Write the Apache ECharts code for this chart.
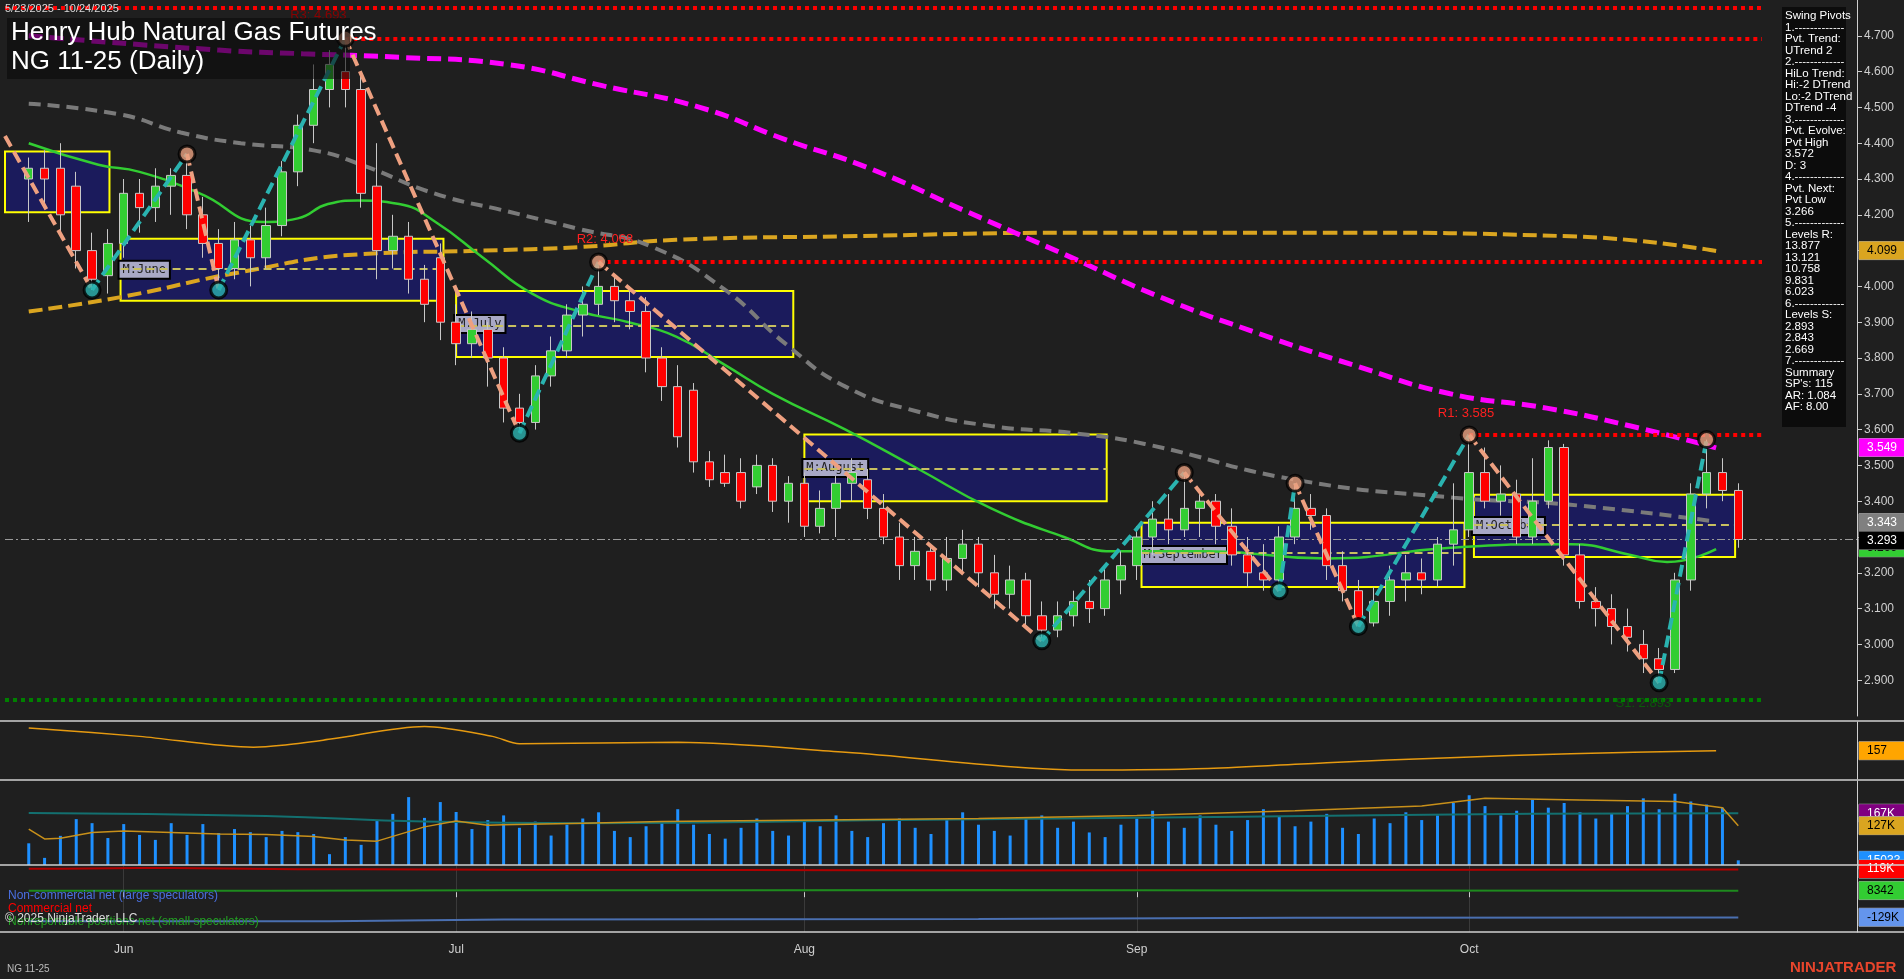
<!DOCTYPE html>
<html>
<head>
<meta charset="utf-8">
<script src="https://cdn.jsdelivr.net/npm/echarts@6/dist/echarts.min.js"></script>
<style>
  html, body { margin: 0; padding: 0; background: #1f1f1f; }
  #chart { width: 1904px; height: 979px; }
</style>
</head>
<body>
<div id="chart"></div>
<script>
// trading days shown on the chart
const dates = [
  '5/23','5/26','5/27','5/28','5/29','5/30',
  '6/2','6/3','6/4','6/5','6/6','6/9','6/10','6/11','6/12','6/13','6/16','6/17','6/18','6/19','6/20','6/23','6/24','6/25','6/26','6/27','6/30',
  '7/1','7/2','7/3','7/7','7/8','7/9','7/10','7/11','7/14','7/15','7/16','7/17','7/18','7/21','7/22','7/23','7/24','7/25','7/28','7/29','7/30','7/31',
  '8/1','8/4','8/5','8/6','8/7','8/8','8/11','8/12','8/13','8/14','8/15','8/18','8/19','8/20','8/21','8/22','8/25','8/26','8/27','8/28','8/29',
  '9/2','9/3','9/4','9/5','9/8','9/9','9/10','9/11','9/12','9/15','9/16','9/17','9/18','9/19','9/22','9/23','9/24','9/25','9/26','9/29','9/30',
  '10/1','10/2','10/3','10/6','10/7','10/8','10/9','10/10','10/13','10/14','10/15','10/16','10/17','10/20','10/21','10/22','10/23','10/24'
];
const monthNames = { 6: 'Jun', 7: 'Jul', 8: 'Aug', 9: 'Sep', 10: 'Oct' };

// [open, close, low, high]
const ohlc = [
  [4.30,4.33,4.18,4.36],[4.33,4.30,4.22,4.38],[4.33,4.20,4.15,4.40],[4.28,4.10,4.05,4.32],[4.10,4.02,3.99,4.15],[4.03,4.12,3.98,4.16],
  [4.12,4.26,4.08,4.30],[4.26,4.22,4.15,4.30],[4.22,4.28,4.18,4.33],[4.28,4.31,4.20,4.33],[4.31,4.20,4.16,4.37],[4.20,4.12,4.08,4.25],
  [4.12,4.05,3.99,4.16],[4.05,4.13,4.02,4.18],[4.13,4.08,4.00,4.17],[4.08,4.17,4.05,4.22],[4.17,4.32,4.14,4.35],[4.32,4.45,4.28,4.48],
  [4.45,4.55,4.40,4.62],[4.55,4.62,4.50,4.66],[4.60,4.55,4.50,4.693],[4.55,4.26,4.22,4.60],[4.28,4.10,4.02,4.40],[4.10,4.14,4.05,4.20],
  [4.14,4.02,3.98,4.18],[4.02,3.95,3.90,4.06],[4.08,3.90,3.85,4.12],
  [3.90,3.84,3.78,3.95],[3.84,3.88,3.80,3.93],[3.88,3.80,3.72,3.90],[3.80,3.66,3.62,3.83],[3.66,3.62,3.59,3.70],[3.62,3.75,3.60,3.78],
  [3.75,3.82,3.72,3.86],[3.82,3.92,3.80,3.95],[3.92,3.95,3.86,4.00],[3.95,4.00,3.92,4.068],[4.00,3.96,3.90,4.03],[3.96,3.93,3.88,4.00],
  [3.93,3.80,3.76,3.97],[3.80,3.72,3.68,3.83],[3.72,3.58,3.55,3.78],[3.71,3.51,3.48,3.73],[3.51,3.46,3.44,3.54],[3.48,3.45,3.44,3.53],
  [3.48,3.40,3.38,3.52],[3.44,3.50,3.42,3.53],[3.50,3.40,3.37,3.52],[3.40,3.45,3.34,3.47],
  [3.45,3.33,3.30,3.48],[3.33,3.38,3.31,3.43],[3.38,3.45,3.30,3.47],[3.45,3.48,3.40,3.52],[3.46,3.38,3.35,3.49],[3.38,3.30,3.28,3.42],
  [3.30,3.22,3.18,3.34],[3.22,3.26,3.18,3.30],[3.26,3.18,3.15,3.28],[3.18,3.24,3.15,3.30],[3.24,3.28,3.20,3.32],[3.28,3.20,3.16,3.30],
  [3.20,3.14,3.10,3.25],[3.14,3.18,3.10,3.22],[3.18,3.08,3.05,3.20],[3.08,3.04,3.01,3.12],[3.04,3.08,3.02,3.12],[3.08,3.12,3.05,3.15],
  [3.12,3.10,3.06,3.18],[3.10,3.18,3.08,3.22],[3.18,3.22,3.14,3.26],
  [3.22,3.30,3.18,3.33],[3.30,3.35,3.25,3.40],[3.35,3.32,3.28,3.42],[3.32,3.38,3.30,3.48],[3.38,3.40,3.30,3.42],[3.40,3.33,3.28,3.42],
  [3.33,3.25,3.22,3.38],[3.25,3.20,3.16,3.30],[3.20,3.18,3.15,3.28],[3.18,3.30,3.15,3.33],[3.30,3.38,3.28,3.45],[3.38,3.36,3.32,3.42],
  [3.36,3.22,3.18,3.38],[3.22,3.15,3.12,3.26],[3.15,3.06,3.05,3.18],[3.06,3.12,3.05,3.16],[3.12,3.18,3.08,3.22],[3.18,3.20,3.12,3.25],
  [3.20,3.18,3.14,3.24],[3.18,3.28,3.16,3.30],[3.28,3.32,3.22,3.45],
  [3.32,3.48,3.30,3.585],[3.48,3.40,3.38,3.55],[3.40,3.42,3.36,3.50],[3.42,3.30,3.28,3.46],[3.30,3.40,3.28,3.52],[3.40,3.55,3.38,3.57],
  [3.55,3.25,3.22,3.56],[3.25,3.12,3.10,3.28],[3.12,3.10,3.05,3.16],[3.10,3.05,3.00,3.14],[3.05,3.02,2.98,3.10],[3.00,2.96,2.92,3.04],
  [2.96,2.93,2.893,2.99],[2.93,3.18,2.92,3.20],[3.18,3.42,3.15,3.45],[3.42,3.48,3.38,3.572],[3.48,3.43,3.40,3.52],[3.43,3.293,3.27,3.45]
];

// moving averages: [bar index, price]
const maGreen = [[0,4.40],[4.4,4.34],[7,4.32],[10.8,4.26],[14.8,4.18],[17,4.19],[18.9,4.23],[20.8,4.24],[23.4,4.23],[25.7,4.18],[28.7,4.08],[31.8,3.98],[34.8,3.93],[37.9,3.90],[40.9,3.86],[44,3.78],[47,3.70],[51.6,3.60],[56.2,3.49],[60.8,3.38],[65.4,3.30],[68.4,3.26],[74.5,3.26],[82,3.24],[89.8,3.27],[97.4,3.28],[101.2,3.25],[103.5,3.23],[106.6,3.266]];
const maGray = [[0,4.51],[5.8,4.48],[9.6,4.43],[13.4,4.40],[18,4.38],[21,4.34],[25.6,4.26],[30.2,4.21],[34.8,4.16],[39.4,4.11],[44,3.99],[47.8,3.84],[51.6,3.72],[56.2,3.65],[60.8,3.61],[66,3.59],[70.5,3.56],[80,3.46],[90,3.41],[97.4,3.39],[106.6,3.343]];
const maMagenta = [[0,4.70],[12,4.66],[17.3,4.65],[23.4,4.64],[30.2,4.62],[36.3,4.56],[42.4,4.50],[47.8,4.41],[53.1,4.33],[59.2,4.21],[65.4,4.09],[71.5,3.97],[77.6,3.87],[83.7,3.78],[89.8,3.70],[95.9,3.66],[101.2,3.61],[106.6,3.549]];
const maOrange = [[0,3.93],[5.8,3.97],[13.4,4.04],[21,4.09],[28.7,4.10],[34.8,4.11],[40.9,4.13],[51.6,4.14],[66.9,4.15],[82,4.15],[97.4,4.14],[106.6,4.099]];

// swing pivots [bar index, price]
const pivots = [[-1.5,4.42],[4,3.99],[10,4.37],[12,3.99],[20,4.693],[31,3.59],[36,4.068],[64,3.01],[73,3.48],[79,3.15],[80,3.45],[84,3.05],[91,3.585],[103,2.893],[106,3.572]];
const pivotHighs = [[10,4.37],[20,4.693],[36,4.068],[73,3.48],[80,3.45],[91,3.585],[106,3.572]];
const pivotLows = [[4,3.99],[12,3.99],[31,3.59],[64,3.01],[79,3.15],[84,3.05],[103,2.893]];

// monthly value areas: [name, startIdx, endIdx, high, low, mid]
const monthBoxes = [
  ['', -1.8, 5.1, 4.377, 4.207, 4.29],
  ['M:June', 5.8, 26.2, 4.133, 3.96, 4.05],
  ['M:July', 27.0, 48.3, 3.987, 3.803, 3.89],
  ['M:August', 49.0, 68.1, 3.586, 3.40, 3.49],
  ['M:September', 70.3, 90.7, 3.34, 3.16, 3.256],
  ['M:October', 91.3, 107.8, 3.418, 3.244, 3.333]
];

// pivot levels: [startIdx, price, colour]
const levels = [[-1.5,4.778,'#ff0000'],[20,4.693,'#ff0000'],[36,4.068,'#ff0000'],[91,3.585,'#ff0000'],[-1.5,2.845,'#008000']];
const levelLabels = [['R3: 4.693',18.3,4.758,'#8b0000'],['R2: 4.068',36.4,4.13,'#ff2020'],['R1: 3.585',90.8,3.644,'#ff2020'],['S1: 2.893',102,2.835,'#0a5a0a']];

// indicator panel (orange)
const indLine = [[0,203],[7,186],[14.2,164],[16,168],[19.2,181],[25,206],[29.3,186],[31,171],[41,174],[51.6,154],[66.9,118],[74.5,121],[82,133],[89.8,143],[97.4,151],[106.6,157]];

// volume (K)
const volume = [70,23,94,148,135,87,132,97,81,135,97,132,103,116,106,90,110,106,100,35,90,65,142,165,219,152,203,171,116,145,
  160,120,140,95,130,150,170,110,90,125,140,180,130,100,85,120,150,110,95,140,
  125,160,110,90,135,150,120,100,145,170,130,110,95,150,160,120,140,105,90,130,
  150,175,140,120,160,130,110,145,180,155,125,140,165,120,100,150,135,170,145,160,
  200,225,190,160,175,210,185,200,170,150,165,190,215,180,230,205,195,185,15.033];
const volAvg = [[0,116],[1,84],[2,86],[4,105],[6,110],[9,105],[12,100],[15,98],[18,92],[20,81],[22,77],[25,123],[27,142],[29,128],[30,130],[35,135],[40,140],[50,145],[60,150],[70,160],[80,175],[88,190],[92,215],[98,210],[104,205],[107,185],[108,127]];
const volTeal = [[0,168],[15,158],[25,140],[35,135],[55,145],[75,155],[95,165],[108,167]];

// COT nets (K)
const cotCommercial = [[0,121],[2,125],[7,125],[9,118],[17,118],[21,116],[30,114],[45,112],[60,115],[80,117],[108,119]];
const cotSmall = [[0,8],[10,8],[15,10],[30,10],[45,12],[60,9],[80,7],[108,8.342]];
const cotLarge = [[0,-150],[17,-150],[19,-140],[30,-138],[60,-132],[80,-130],[108,-129]];

const sidePanel = ['Swing Pivots','1.-------------','Pvt. Trend:','UTrend 2','2.-------------','HiLo Trend:','Hi:-2 DTrend','Lo:-2 DTrend','DTrend -4','3.-------------','Pvt. Evolve:','Pvt High','3.572','D: 3','4.-------------','Pvt. Next:','Pvt Low','3.266','5.-------------','Levels R:','13.877','13.121','10.758','9.831','6.023','6.-------------','Levels S:','2.893','2.843','2.669','7.-------------','Summary',"SP's: 115",'AR: 1.084','AF: 8.00'];

const monthStarts = [];
dates.forEach((d, i) => { if (i > 0 && d.split('/')[0] !== dates[i - 1].split('/')[0]) monthStarts.push(i); });

const chart = echarts.init(document.getElementById('chart'));

const tag = (text, bg, fg) => ({
  show: true, position: 'end', distance: 2, formatter: text,
  backgroundColor: bg, color: fg, padding: [3, 4, 3, 8], fontSize: 12, fontFamily: 'Arial', width: 36,
  borderColor: '#aaa', borderWidth: 0.5
});
const hiddenLine = { color: 'rgba(0,0,0,0)', width: 0 };
const tagLine = (y, text, bg, fg) => ({ yAxis: y, lineStyle: hiddenLine, label: tag(text, bg, fg) });

const xBase = (gi, extra) => Object.assign({
  type: 'value', gridIndex: gi, min: -1.5, max: 115.5,
  axisLine: { show: false }, axisTick: { show: false }, axisLabel: { show: false }, splitLine: { show: false }
}, extra || {});
const yBase = (gi, min, max, extra) => Object.assign({
  type: 'value', gridIndex: gi, position: 'right', min: min, max: max,
  axisLine: { show: true, onZero: false, lineStyle: { color: '#cfcfcf' } }, axisTick: { show: false },
  axisLabel: { show: false }, splitLine: { show: false }
}, extra || {});

const series = [];

// monthly boxes + levels + candles
series.push({
  type: 'candlestick', xAxisIndex: 0, yAxisIndex: 0, barWidth: 9, z: 5,
  data: ohlc.map((d, i) => [i].concat(d)),
  encode: { x: 0, y: [1, 2, 3, 4] },
  itemStyle: { color: '#32cd32', color0: '#ff0000', borderColor: '#c8c8c8', borderColor0: '#c8c8c8', borderWidth: 1 },
  markArea: {
    silent: true,
    itemStyle: { color: '#1b1b5c', borderColor: '#ffff00', borderWidth: 2 },
    label: { show: true, position: 'insideLeft', distance: 0, color: '#222', fontFamily: 'DejaVu Sans Mono', fontSize: 12,
      backgroundColor: '#a9a9c6', borderColor: '#000', borderWidth: 2, padding: [2, 3] },
    data: monthBoxes.map(b => [
      { coord: [b[1], b[3]], name: b[0], label: { show: b[0] !== '' } },
      { coord: [b[2], b[4]] }
    ])
  },
  markLine: {
    silent: true, symbol: 'none', animation: false,
    data: [
      ...monthBoxes.map(b => [
        { coord: [b[1], b[5]], lineStyle: { color: '#c8c060', type: [8, 5], width: 2 }, label: { show: false } },
        { coord: [b[2], b[5]] }
      ]),
      ...levels.map(l => [
        { coord: [l[0], l[1]], lineStyle: { color: l[2], type: [4, 4], width: 4, cap: 'butt' }, label: { show: false } },
        { coord: [109.5, l[1]] }
      ]),
      [
        { coord: [-1.5, 3.293], lineStyle: { color: '#9a9a9a', type: [8, 3, 2, 3], width: 1 }, label: { show: false } },
        { coord: [115.5, 3.293] }
      ]
    ]
  },
  markPoint: {
    silent: true, symbolSize: 0,
    data: levelLabels.map(l => ({ coord: [l[1], l[2]], label: { show: true, position: 'inside', formatter: l[0], color: l[3], fontSize: 13, fontFamily: 'Arial' } }))
  }
});

const maSeries = (data, color, width, dash, tagText, tagBg, tagFg, z) => ({
  type: 'line', xAxisIndex: 0, yAxisIndex: 0, data: data, smooth: true, symbol: 'none', z: z,
  lineStyle: { color: color, width: width, type: dash },
  markLine: { silent: true, symbol: 'none', data: [tagLine(data[data.length - 1][1], tagText, tagBg, tagFg)] }
});
series.push(maSeries(maOrange, '#daa520', 4, [14, 6], '4.099', '#daa520', '#000', 3));
series.push(maSeries(maMagenta, '#ff00ff', 5, [14, 7], '3.549', '#ff00ff', '#fff', 3));
series.push(maSeries(maGray, '#7a7a7a', 4, [12, 7], '3.343', '#808080', '#fff', 3));
series.push(maSeries(maGreen, '#32cd32', 2.5, 'solid', '3.266', '#32cd32', '#000', 4));

// swing legs
for (let i = 0; i < pivots.length - 1; i++) {
  const up = pivots[i + 1][1] > pivots[i][1];
  series.push({
    type: 'line', xAxisIndex: 0, yAxisIndex: 0, symbol: 'none', z: 7, silent: true,
    data: [pivots[i], pivots[i + 1]],
    lineStyle: { color: up ? '#2ab3b0' : '#eea080', width: 4, type: [12, 6] }
  });
}
series.push({ type: 'scatter', xAxisIndex: 0, yAxisIndex: 0, z: 8, data: pivotHighs, symbolSize: 16,
  itemStyle: { color: '#e9a080', borderColor: '#000', borderWidth: 3 } });
series.push({ type: 'scatter', xAxisIndex: 0, yAxisIndex: 0, z: 8, data: pivotLows, symbolSize: 16,
  itemStyle: { color: '#2ab3b0', borderColor: '#000', borderWidth: 3 },
  markLine: { silent: true, symbol: 'none', data: [tagLine(3.293, '3.293', '#000', '#fff')] } });

// indicator panel
series.push({ type: 'line', xAxisIndex: 1, yAxisIndex: 1, data: indLine, smooth: 0.3, symbol: 'none',
  lineStyle: { color: '#e69a10', width: 1.5 },
  markLine: { silent: true, symbol: 'none', data: [tagLine(157, '157', '#ffa500', '#000')] } });

// volume panel
series.push({ type: 'bar', xAxisIndex: 2, yAxisIndex: 2, barWidth: 3, data: volume.map((v, i) => [i, v]),
  itemStyle: { color: '#1e90ff' },
  markLine: { silent: true, symbol: 'none', data: [tagLine(15.033, '15033', '#1e90ff', '#fff')] } });
series.push({ type: 'line', xAxisIndex: 2, yAxisIndex: 2, data: volTeal, smooth: true, symbol: 'none',
  lineStyle: { color: '#137070', width: 2 },
  markLine: { silent: true, symbol: 'none', data: [tagLine(167, '167K', '#800080', '#fff')] } });
series.push({ type: 'line', xAxisIndex: 2, yAxisIndex: 2, data: volAvg, symbol: 'none',
  lineStyle: { color: '#c8901a', width: 1.5 },
  markLine: { silent: true, symbol: 'none', data: [tagLine(127, '127K', '#daa520', '#000')] } });

// COT panel
series.push({ type: 'line', xAxisIndex: 3, yAxisIndex: 3, data: cotCommercial, step: 'end', symbol: 'none',
  lineStyle: { color: '#b00000', width: 2 },
  markLine: { silent: true, symbol: 'none', data: [tagLine(119, '119K', '#ff0000', '#fff')] } });
series.push({ type: 'line', xAxisIndex: 3, yAxisIndex: 3, data: cotSmall, step: 'end', symbol: 'none',
  lineStyle: { color: '#1e8a1e', width: 2 },
  markLine: { silent: true, symbol: 'none', data: [tagLine(8.342, '8342', '#32cd32', '#000')] } });
series.push({ type: 'line', xAxisIndex: 3, yAxisIndex: 3, data: cotLarge, step: 'end', symbol: 'none',
  lineStyle: { color: '#4a6fb0', width: 2 },
  markLine: { silent: true, symbol: 'none', data: [tagLine(-129, '-129K', '#6495ed', '#000')] } });

const txt = (x, y, text, fill, size, weight) => ({
  type: 'text', left: x, top: y, z: 100, silent: true,
  style: { text: text, fill: fill, font: (weight || 'normal') + ' ' + size + 'px Arial' }
});

const graphics = [
  { type: 'rect', left: 7, top: 18, z: 90, silent: true, shape: { width: 343, height: 61 }, style: { fill: 'rgba(10,10,10,0.6)' } },
  txt(11, 20, 'Henry Hub Natural Gas Futures', '#fff', 26),
  txt(11, 49, 'NG 11-25 (Daily)', '#fff', 26),
  txt(5, 3, '5/23/2025 - 10/24/2025', '#d8d8d8', 11),
  { type: 'rect', left: 1782, top: 7, z: 90, silent: true, shape: { width: 64, height: 420 }, style: { fill: '#0c0c0c' } },
  ...sidePanel.map((s, i) => txt(1785, 10 + i * 11.5, s, '#fff', 11.5)),
  ...[721, 780, 865, 932].map(y => ({ type: 'line', z: 95, silent: true, shape: { x1: 0, y1: y, x2: 1904, y2: y }, style: { stroke: '#d0d0d0', lineWidth: 1.5 } })),
  txt(8, 890, 'Non-commercial net (large speculators)', '#4a6fe0', 12),
  txt(8, 903, 'Commercial net', '#ff0000', 12),
  txt(8, 916, 'Nonreportable positions net (small speculators)', '#22a022', 12),
  txt(5, 913, '\u00a9 2025 NinjaTrader, LLC', '#dcdcdc', 12),
  txt(7, 964, 'NG 11-25', '#bbbbbb', 10),
  txt(1790, 960, 'NINJATRADER', '#e8452c', 15, 'bold')
];

chart.setOption({
  backgroundColor: '#1f1f1f',
  animation: false,
  grid: [
    { left: 5, right: 47, top: 0, height: 716 },
    { left: 5, right: 47, top: 722, height: 57 },
    { left: 5, right: 47, top: 781, height: 84 },
    { left: 5, right: 47, top: 866, height: 66 }
  ],
  xAxis: [
    xBase(0), xBase(1), xBase(2),
    xBase(3, {
      axisTick: { show: true, customValues: monthStarts, length: 5, lineStyle: { color: '#ccc' } },
      axisLabel: { show: true, customValues: monthStarts, color: '#d0d0d0', fontSize: 12, fontFamily: 'Arial', margin: 12,
        formatter: v => monthNames[+dates[Math.round(v)].split('/')[0]] },
      splitLine: { show: true, customValues: monthStarts, lineStyle: { color: '#3a3a3a' } }
    })
  ],
  yAxis: [
    yBase(0, 2.8, 4.8, {
      interval: 0.1,
      axisTick: { show: true, length: 5, lineStyle: { color: '#cfcfcf' } },
      axisLabel: { show: true, color: '#cfcfcf', fontSize: 12, fontFamily: 'Arial', margin: 7, showMinLabel: false, showMaxLabel: false,
        formatter: v => v.toFixed(3) }
    }),
    yBase(1, 100, 215),
    yBase(2, 0, 271),
    yBase(3, -205, 135)
  ],
  graphic: graphics,
  series: series
});
</script>
</body>
</html>
